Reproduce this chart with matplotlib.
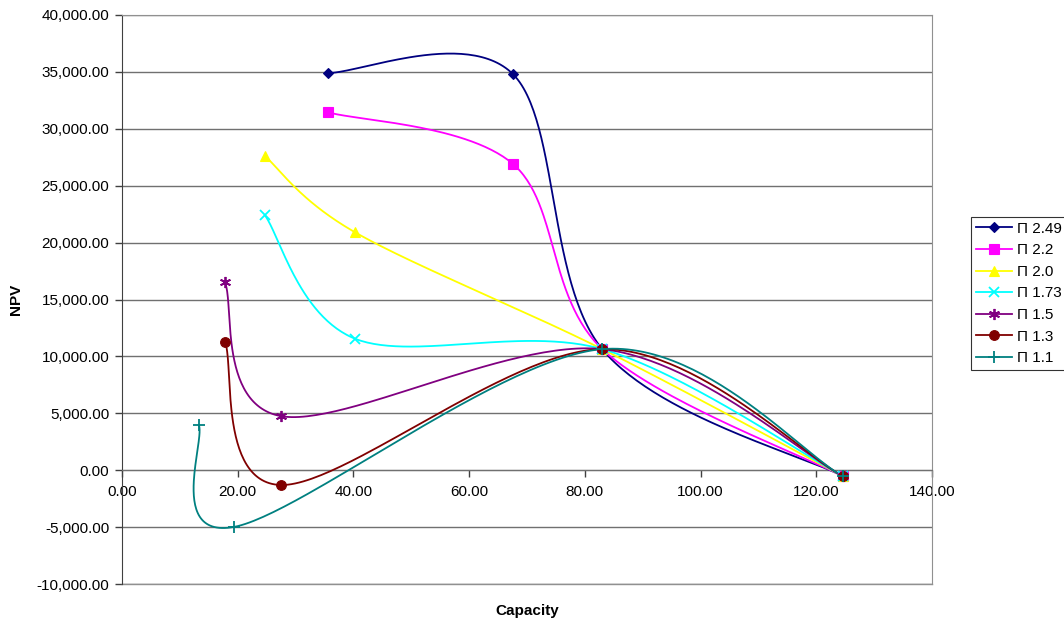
import numpy as np
import matplotlib
matplotlib.use("Agg")
import matplotlib.pyplot as plt
from matplotlib.ticker import FuncFormatter, MultipleLocator

plt.rcParams['font.family'] = ['Liberation Sans', 'DejaVu Sans']

# ---- data ----
series_names = ["Π 2.49", "Π 2.2", "Π 2.0", "Π 1.73", "Π 1.5", "Π 1.3", "Π 1.1"]
x_249 = [35.6, 67.6, 83.0, 124.6]
y_249 = [34900, 34790, 10640, -530]
x_22 = [35.6, 67.6, 83.0, 124.6]
y_22 = [31450, 26900, 10640, -530]
x_20 = [24.7, 40.3, 83.0, 124.6]
y_20 = [27600, 20900, 10640, -530]
x_173 = [24.7, 40.3, 83.0, 124.6]
y_173 = [22400, 11550, 10640, -530]
x_15 = [17.8, 27.5, 83.0, 124.6]
y_15 = [16500, 4750, 10640, -530]
x_13 = [17.8, 27.5, 83.0, 124.6]
y_13 = [11300, -1300, 10640, -530]
x_11 = [13.3, 19.4, 83.0, 124.6]
y_11 = [3950, -4980, 10640, -530]

colors = ["#000080", "#FF00FF", "#FFFF00", "#00FFFF", "#800080", "#800000", "#008080"]
markers = ["D", "s", "^", "x", (6, 2, 0), "o", "+"]
msizes = [5.5, 6.5, 7, 7, 8, 7, 8]

xs_all = [x_249, x_22, x_20, x_173, x_15, x_13, x_11]
ys_all = [y_249, y_22, y_20, y_173, y_15, y_13, y_11]

fig = plt.figure(figsize=(10.64, 6.25), dpi=100)
ax = fig.add_axes([122/1064, 1-584/625, 810/1064, 569/625])
ax.set_xlim(0, 140)
ax.set_ylim(-10000, 40000)


def excel_smooth(xs, ys, n=60):
    pts = ax.transData.transform(np.column_stack([xs, ys]))
    P = np.vstack([pts[0], pts, pts[-1]])
    out = [pts[0]]
    t = np.linspace(0, 1, n)[1:, None]
    for i in range(1, len(P) - 2):
        p0, p1, p2, p3 = P[i-1], P[i], P[i+1], P[i+2]
        c1 = p1 + (p2 - p0) / 6.0
        c2 = p2 - (p3 - p1) / 6.0
        seg = ((1-t)**3) * p1 + 3*((1-t)**2)*t*c1 + 3*(1-t)*(t**2)*c2 + (t**3)*p2
        out.extend(seg)
    out = np.array(out)
    d = ax.transData.inverted().transform(out)
    return d[:, 0], d[:, 1]


for name, xs, ys, c, m, ms in zip(series_names, xs_all, ys_all, colors, markers, msizes):
    sx, sy = excel_smooth(xs, ys)
    mew = 1.3 if m in ("x", "+", (6, 2, 0)) else 0.8
    ax.plot(sx, sy, color=c, lw=1.3, zorder=3)
    ax.plot(xs, ys, linestyle='none', marker=m, color=c, markersize=ms,
            markeredgewidth=mew, zorder=4)
    ax.plot([], [], color=c, lw=1.3, marker=m, markersize=ms,
            markeredgewidth=mew, label=name)

# gridlines
ax.yaxis.set_major_locator(MultipleLocator(5000))
ax.xaxis.set_major_locator(MultipleLocator(20))
ax.grid(axis='y', color='#707070', lw=1.0, zorder=1)
ax.set_axisbelow(True)

ax.spines['bottom'].set_position(('data', 0))
ax.spines['bottom'].set_color('#707070')
ax.spines['left'].set_color('#404040')
ax.spines['right'].set_color('#909090')
ax.spines['top'].set_color('#909090')
ax.plot([0, 140], [-10000, -10000], color='#909090', lw=1.0, clip_on=False, zorder=2)

ax.yaxis.set_major_formatter(FuncFormatter(lambda v, p: f"{v:,.2f}"))
ax.xaxis.set_major_formatter(FuncFormatter(lambda v, p: f"{v:,.2f}"))
ax.tick_params(axis='both', direction='out', length=5, width=1, color='#404040',
               labelsize=11, labelcolor='black', pad=4)
ax.tick_params(axis='x', pad=6)

ax.set_xlabel("Capacity", fontsize=11, fontweight='bold')
ax.xaxis.set_label_coords(0.5, -0.035)
ax.set_ylabel("NPV", fontsize=11, fontweight='bold')
ax.yaxis.set_label_coords(-0.122, 0.5)

leg = fig.legend(loc='upper left', bbox_to_anchor=(971/1064, 1-217/625), frameon=True,
                 fancybox=False, fontsize=11, handlelength=2.4, borderpad=0.3,
                 labelspacing=0.5, handletextpad=0.3, borderaxespad=0)
leg.get_frame().set_edgecolor('black')
leg.get_frame().set_linewidth(0.8)

fig.savefig("out.png", dpi=100)
